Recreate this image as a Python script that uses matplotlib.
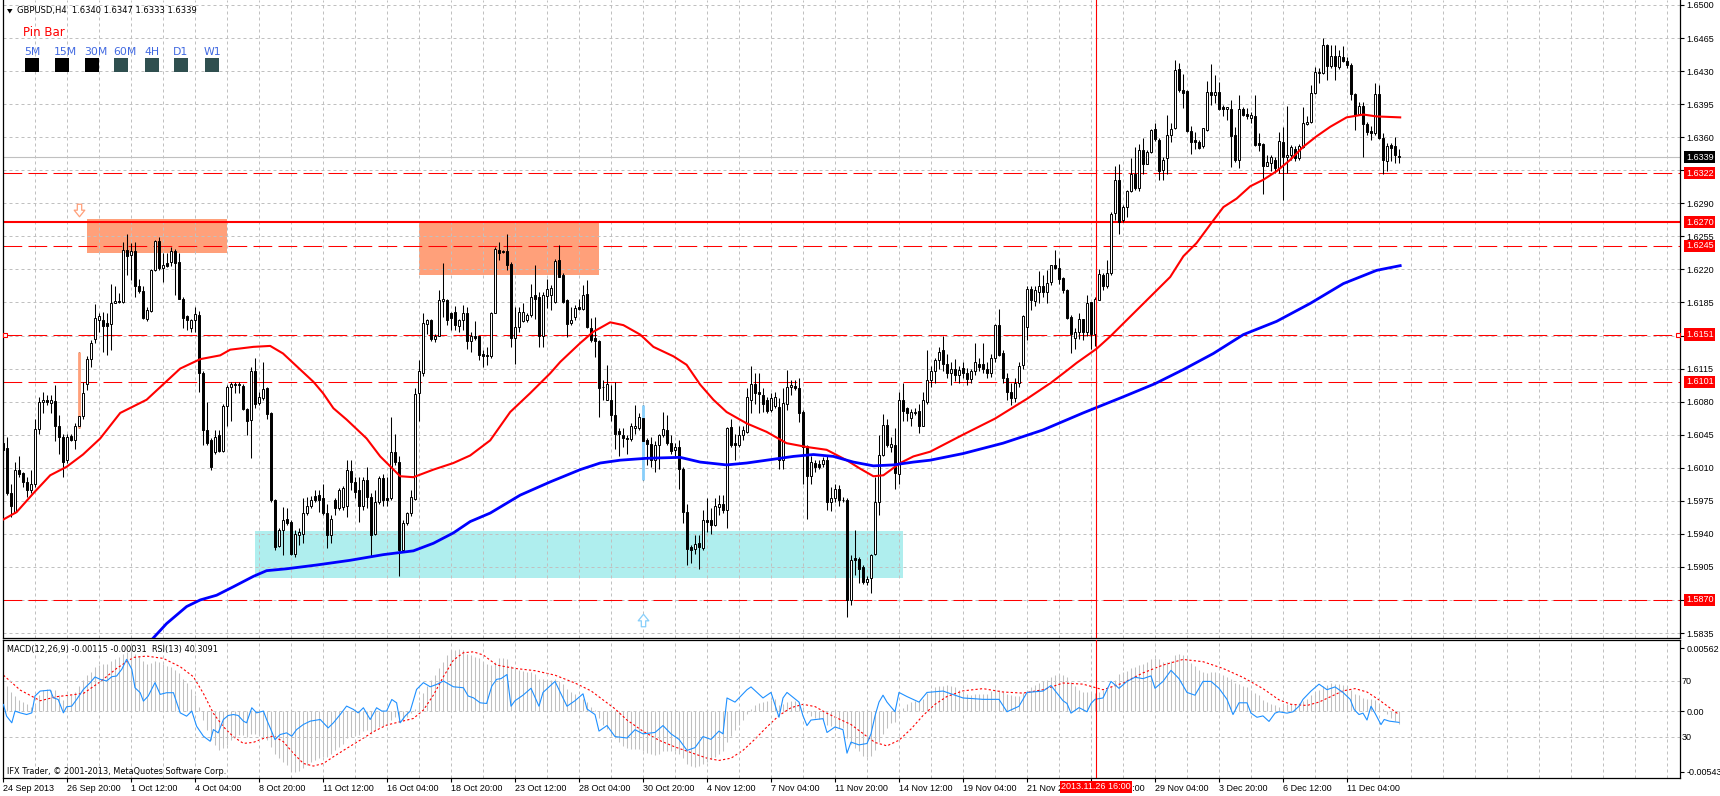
import matplotlib
matplotlib.use("Agg")
import matplotlib.pyplot as plt
from matplotlib.patches import Rectangle, Polygon
from matplotlib.path import Path
import numpy as np

# GBPUSD H4 candles, prices in pips above 1.5800
open_pips = [
    236, 231, 183, 163, 208, 204, 195, 186, 193, 251, 280, 282, 279, 281, 254, 243, 218, 244, 239, 254,
    265, 299, 325, 346, 366, 366, 363, 362, 384, 387, 386, 441, 435, 440, 402, 397, 368, 376, 419, 450,
    421, 427, 428, 440, 428, 389, 371, 358, 366, 372, 310, 250, 239, 227, 245, 228, 275, 296, 298, 298,
    297, 272, 261, 312, 279, 284, 294, 268, 176, 127, 144, 156, 153, 119, 139, 140, 162, 169, 180, 181,
    178, 162, 139, 176, 167, 168, 169, 207, 195, 186, 169, 197, 179, 140, 174, 199, 178, 178, 227, 216,
    123, 151, 162, 177, 289, 310, 362, 366, 346, 349, 387, 388, 374, 375, 360, 366, 374, 344, 350, 349,
    330, 329, 328, 374, 441, 440, 440, 426, 347, 359, 365, 366, 372, 393, 391, 349, 392, 393, 386, 430,
    414, 388, 363, 370, 380, 378, 394, 358, 347, 344, 296, 282, 282, 266, 249, 245, 242, 240, 252, 252,
    263, 239, 235, 218, 234, 245, 250, 236, 229, 232, 209, 163, 126, 124, 130, 125, 155, 155, 149, 168,
    172, 165, 253, 236, 234, 245, 248, 282, 299, 290, 287, 282, 271, 275, 274, 218, 278, 296, 297, 294,
    269, 233, 201, 215, 214, 214, 218, 174, 178, 187, 176, 176, 70, 114, 113, 105, 89, 93, 119, 174,
    224, 255, 232, 234, 203, 282, 273, 263, 268, 270, 254, 280, 303, 312, 324, 335, 320, 310, 315, 308,
    316, 310, 304, 312, 320, 320, 315, 310, 326, 361, 331, 305, 290, 284, 300, 319, 359, 399, 387, 396,
    402, 396, 407, 425, 421, 411, 398, 370, 347, 354, 367, 354, 385, 352, 388, 414, 402, 416, 480, 515,
    472, 486, 503, 521, 506, 546, 532, 544, 569, 557, 525, 538, 562, 570, 632, 610, 609, 567, 557, 555,
    551, 568, 608, 605, 608, 592, 590, 590, 562, 536, 590, 585, 580, 582, 554, 553, 530, 533, 536, 527,
    555, 539, 541, 548, 538, 550, 574, 576, 607, 628, 628, 658, 635, 646, 634, 645, 641, 636, 606, 585,
    593, 574, 567, 564, 606, 559, 535, 552, 551, 540,
]
high_pips = [
    241, 243, 193, 216, 222, 206, 200, 208, 262, 285, 290, 287, 287, 298, 266, 246, 246, 246, 257, 333,
    301, 328, 345, 383, 374, 375, 374, 405, 402, 395, 449, 458, 448, 449, 410, 402, 380, 420, 451, 454,
    437, 437, 444, 442, 437, 391, 372, 368, 380, 376, 312, 280, 241, 250, 250, 278, 298, 301, 301, 301,
    299, 273, 317, 326, 290, 322, 296, 269, 177, 146, 168, 167, 155, 144, 146, 178, 179, 180, 186, 186,
    193, 172, 160, 178, 189, 191, 218, 218, 200, 200, 200, 211, 183, 186, 201, 203, 200, 264, 246, 222,
    155, 163, 186, 294, 324, 374, 368, 368, 352, 398, 427, 389, 375, 381, 368, 382, 380, 354, 365, 350,
    335, 338, 375, 444, 449, 441, 458, 428, 380, 380, 384, 374, 405, 425, 396, 396, 410, 404, 431, 446,
    416, 389, 380, 382, 389, 404, 409, 369, 370, 345, 303, 319, 298, 301, 252, 252, 245, 257, 276, 268,
    276, 241, 243, 238, 246, 269, 266, 245, 236, 239, 211, 172, 128, 139, 139, 165, 178, 167, 178, 181,
    181, 253, 262, 246, 254, 254, 294, 318, 310, 310, 294, 285, 289, 290, 284, 294, 314, 303, 303, 305,
    271, 234, 222, 218, 218, 221, 222, 190, 193, 192, 179, 178, 118, 144, 116, 107, 95, 119, 200, 245,
    267, 262, 243, 252, 290, 300, 274, 272, 273, 278, 290, 335, 318, 326, 338, 349, 330, 322, 325, 318,
    322, 316, 315, 342, 326, 342, 322, 330, 362, 378, 335, 310, 300, 305, 322, 372, 402, 402, 402, 418,
    414, 419, 425, 441, 432, 412, 399, 372, 358, 374, 368, 393, 386, 391, 420, 416, 430, 481, 529, 532,
    488, 504, 538, 550, 553, 559, 546, 569, 575, 559, 539, 584, 575, 642, 639, 627, 610, 572, 566, 557,
    570, 619, 638, 626, 618, 594, 592, 599, 571, 605, 592, 591, 587, 605, 564, 554, 541, 541, 539, 566,
    571, 593, 552, 551, 553, 592, 582, 615, 634, 633, 665, 659, 658, 658, 652, 657, 645, 639, 607, 597,
    597, 576, 572, 617, 615, 564, 554, 554, 560, 547,
]
low_pips = [
    225, 181, 158, 162, 200, 190, 179, 183, 190, 246, 268, 276, 268, 238, 225, 200, 215, 238, 230, 252,
    262, 292, 317, 342, 354, 333, 329, 335, 384, 384, 384, 414, 409, 391, 395, 368, 365, 375, 418, 419,
    407, 423, 424, 393, 389, 358, 356, 354, 354, 290, 234, 234, 208, 225, 227, 227, 254, 260, 289, 289,
    271, 245, 220, 273, 276, 282, 262, 174, 123, 126, 118, 149, 118, 115, 128, 130, 160, 167, 174, 163,
    160, 125, 130, 160, 165, 165, 158, 186, 178, 153, 165, 167, 116, 139, 172, 169, 169, 176, 213, 95,
    121, 149, 159, 176, 260, 307, 352, 344, 343, 349, 370, 361, 356, 356, 354, 356, 336, 333, 345, 324,
    317, 319, 326, 374, 430, 437, 419, 338, 320, 354, 364, 364, 370, 368, 338, 338, 379, 377, 384, 412,
    384, 348, 361, 366, 377, 377, 358, 343, 327, 264, 282, 282, 260, 230, 222, 232, 225, 238, 246, 250,
    197, 213, 211, 205, 209, 243, 234, 225, 220, 187, 151, 107, 109, 119, 103, 123, 142, 140, 148, 160,
    162, 146, 232, 218, 232, 239, 247, 268, 278, 268, 269, 268, 269, 273, 209, 209, 271, 287, 292, 258,
    193, 156, 193, 206, 209, 211, 165, 164, 174, 169, 174, 52, 65, 96, 88, 87, 86, 77, 118, 160,
    222, 232, 227, 188, 193, 260, 260, 254, 266, 247, 254, 278, 295, 300, 315, 312, 305, 298, 302, 300,
    305, 298, 300, 308, 312, 310, 305, 306, 322, 328, 300, 282, 276, 280, 296, 315, 345, 377, 381, 384,
    391, 384, 404, 420, 405, 395, 368, 332, 336, 346, 345, 350, 336, 339, 388, 398, 400, 414, 472, 458,
    470, 476, 502, 504, 503, 521, 532, 543, 556, 515, 515, 521, 555, 569, 608, 591, 566, 542, 547, 547,
    549, 567, 594, 596, 589, 582, 578, 528, 534, 527, 582, 579, 575, 551, 545, 500, 529, 524, 522, 522,
    493, 522, 536, 535, 536, 549, 573, 575, 606, 617, 627, 621, 633, 621, 632, 640, 633, 599, 568, 584,
    539, 562, 557, 562, 558, 521, 524, 535, 533, 533,
]
close_pips = [
    229, 183, 169, 208, 203, 195, 186, 193, 251, 280, 282, 280, 282, 254, 243, 216, 243, 239, 254, 265,
    289, 325, 342, 369, 371, 360, 360, 384, 387, 385, 441, 434, 440, 402, 397, 369, 377, 419, 450, 421,
    425, 424, 440, 427, 389, 369, 366, 366, 373, 310, 250, 236, 211, 243, 228, 275, 296, 299, 299, 299,
    272, 260, 312, 278, 285, 293, 267, 176, 126, 144, 155, 151, 119, 140, 142, 162, 170, 176, 176, 176,
    162, 139, 156, 167, 186, 189, 208, 195, 184, 169, 197, 179, 139, 174, 199, 176, 176, 227, 216, 123,
    151, 162, 179, 288, 312, 363, 366, 346, 349, 388, 389, 366, 369, 361, 366, 374, 344, 350, 347, 329,
    328, 328, 374, 442, 437, 438, 425, 347, 359, 375, 375, 372, 391, 389, 349, 393, 399, 400, 429, 412,
    386, 362, 366, 379, 378, 393, 359, 345, 344, 294, 295, 299, 266, 246, 246, 242, 240, 254, 254, 264,
    238, 235, 218, 234, 245, 251, 236, 228, 232, 209, 163, 124, 123, 129, 126, 155, 153, 149, 169, 172,
    165, 252, 234, 234, 245, 250, 285, 299, 289, 288, 278, 270, 284, 285, 218, 279, 296, 298, 294, 268,
    232, 201, 216, 211, 211, 218, 174, 178, 187, 176, 176, 70, 112, 112, 103, 89, 92, 118, 174, 224,
    255, 234, 235, 204, 282, 270, 268, 269, 269, 254, 282, 303, 312, 324, 333, 320, 310, 315, 308, 314,
    310, 304, 312, 322, 317, 315, 310, 326, 361, 329, 305, 290, 284, 300, 318, 371, 399, 388, 398, 402,
    396, 406, 425, 421, 410, 398, 369, 352, 354, 367, 354, 384, 352, 389, 415, 402, 416, 479, 515, 470,
    486, 503, 521, 506, 546, 532, 544, 568, 558, 524, 536, 562, 569, 631, 610, 607, 567, 555, 555, 549,
    570, 608, 605, 608, 590, 590, 592, 561, 536, 590, 584, 582, 584, 552, 552, 530, 534, 539, 527, 556,
    539, 541, 550, 538, 551, 575, 576, 607, 629, 629, 658, 635, 646, 635, 646, 641, 636, 606, 584, 593,
    574, 565, 564, 606, 559, 536, 551, 549, 541, 539,
]

# moving averages: (bar, pips above 1.5800)
red_ma = [(0, 155), (3.4, 163), (7.6, 183), (11.8, 202), (15.9, 211), (20, 224), (24.3, 241), (29.3, 268),
          (35.9, 282), (44.3, 315), (49.3, 325), (54.3, 329), (56.8, 335), (62.6, 338), (66.8, 339), (70, 331),
          (74.3, 314), (77.6, 301), (80, 289), (82.6, 273), (85.9, 261), (90.9, 241), (94.3, 222), (99.3, 201),
          (102.6, 200), (107.6, 208), (112.6, 215), (116.8, 223), (121.8, 239), (126.8, 269), (131.8, 289),
          (136.8, 310), (139.3, 322), (144.3, 342), (147.6, 354), (151.8, 364), (155.1, 361), (159.3, 351),
          (162.6, 338), (167.6, 328), (170.9, 319), (174.3, 298), (177.6, 282), (180.9, 269), (185.9, 257),
          (190.9, 248), (195.9, 236), (200.9, 232), (205.9, 229), (210.9, 218), (214.3, 209), (217.6, 201),
          (220.1, 202), (224.3, 215), (227.6, 222), (231.8, 227), (240, 245), (248, 262), (256, 283),
          (262, 300), (266.3, 314), (268.4, 321), (273.4, 336), (276.8, 349), (281.8, 370), (286.8, 391),
          (291.8, 412), (295.1, 434), (298.4, 448), (302.6, 472), (305.1, 486), (308.4, 495), (311.8, 508),
          (315.1, 515), (318.4, 524), (321.8, 536), (325.1, 550), (328.4, 561), (331.8, 571), (335.9, 581),
          (340.1, 584), (343.4, 582), (349.3, 581)]
blue_ma = [(37.2, 28), (40.9, 45), (45.9, 63), (49.3, 70), (53.4, 75), (57.6, 84), (62.6, 95), (65.9, 101),
           (70.9, 103), (78.4, 107), (86.8, 112), (95.1, 118), (102.6, 122), (107.6, 130), (112.6, 141),
           (116.8, 153), (121.8, 162), (129.3, 181), (136.8, 195), (144.3, 208), (149.3, 215), (154.3, 218),
           (160.9, 220), (169.3, 221), (174.3, 216), (180.9, 213), (185.9, 215), (192.6, 219), (197.6, 222),
           (202.6, 224), (207.6, 222), (212.6, 216), (217.6, 212), (222.6, 213), (227.6, 216), (231.8, 218),
           (240, 225), (250, 236), (260, 250), (270, 268), (280, 285), (288, 299), (295.1, 314), (302.6, 331),
           (310.1, 351), (318.4, 365), (326.8, 384), (335.1, 405), (343.4, 419), (349.3, 424)]

# MACD(12,26,9) main line per bar, units of 0.0001
macd_main = [
    26, 22, 17, 13, 10, 8, 6, 4, 6, 14, 19, 20, 19, 19, 14, 10, 14, 14, 17, 22,
    28, 32, 35, 39, 41, 42, 42, 45, 46, 48, 51, 53, 54, 51, 49, 45, 42, 43, 45, 44,
    42, 40, 39, 37, 34, 29, 25, 20, 14, 4, -8, -17, -26, -30, -35, -33, -30, -26, -23, -21,
    -21, -23, -20, -20, -21, -23, -26, -32, -38, -42, -45, -48, -53, -54, -53, -51, -48, -45, -44, -42,
    -41, -41, -38, -35, -32, -29, -24, -23, -21, -21, -18, -17, -20, -17, -14, -13, -12, -8, -5, -10,
    -8, -5, -2, 2, 8, 16, 22, 28, 32, 38, 44, 50, 54, 54, 55, 54, 51, 50, 48, 47,
    44, 42, 41, 44, 47, 47, 46, 40, 38, 37, 36, 35, 35, 33, 29, 29, 28, 28, 29, 27,
    24, 20, 17, 15, 12, 11, 8, 4, 1, -6, -12, -16, -20, -24, -28, -31, -33, -34, -34, -34,
    -36, -37, -38, -39, -38, -36, -36, -36, -36, -38, -42, -47, -49, -50, -49, -47, -45, -43, -41, -38,
    -36, -28, -22, -17, -12, -8, -3, 2, 5, 7, 8, 9, 10, 11, 5, 6, 8, 9, 9, 8,
    4, -2, -4, -6, -7, -8, -12, -13, -14, -15, -15, -24, -29, -33, -36, -40, -41, -40, -35, -28,
    -20, -15, -11, -10, -3, 3, 6, 8, 9, 9, 11, 16, 19, 21, 22, 22, 23, 22, 21, 19,
    17, 15, 14, 15, 15, 15, 15, 18, 20, 19, 17, 15, 14, 13, 13, 16, 19, 21, 23, 25,
    27, 28, 30, 32, 33, 32, 30, 26, 22, 19, 17, 17, 16, 16, 17, 19, 20, 22, 28, 33,
    35, 36, 38, 39, 41, 42, 44, 46, 47, 46, 44, 44, 45, 50, 51, 50, 47, 43, 40, 37,
    35, 34, 35, 35, 34, 32, 30, 29, 25, 24, 22, 21, 19, 16, 14, 10, 8, 6, 5, 4,
    5, 6, 6, 6, 7, 9, 11, 14, 17, 19, 22, 23, 25, 24, 24, 23, 22, 19, 15, 14,
    12, 11, 11, 10, 6, 2, -3, -6, -9, -11.5,
]
# signal line points (bar, units of 0.0001)
macd_signal = [(0.1, 32), (4.3, 18.7), (9.3, 9.2), (13.4, 12.8), (20.1, 15.7), (24.3, 26.1), (28.4, 38),
               (32.6, 47.8), (35.9, 49), (40.1, 46.9), (44.3, 39.5), (47.6, 30.6), (50.1, 15.7), (52.6, -2.1),
               (55.1, -14), (57.6, -22.9), (60.1, -28.8), (62.6, -27.9), (65.1, -24.4), (67.6, -22.3),
               (70.1, -27.3), (72.6, -37.7), (75.1, -46.7), (77.6, -49), (80.1, -46.7), (82.6, -40.7),
               (85.9, -33.3), (89.3, -25.9), (92.6, -18.4), (95.9, -12.5), (99.3, -9.5), (102.6, -6.6),
               (105.1, 0.9), (107.6, 14.2), (110.1, 30.6), (112.6, 45.4), (115.1, 52), (117.6, 52.8),
               (120.1, 49.9), (123.4, 41), (128, 38), (133, 36), (138, 32), (143, 25), (147, 18), (150, 10),
               (153, 2), (156, -8), (160, -18), (164, -26), (168, -32), (172, -37), (176, -42), (179, -44),
               (182, -42), (185, -35), (188, -25), (191, -14), (194, -4), (197, 3), (200, 6), (203, 4),
               (206, -2), (209, -7), (212, -12), (215, -20), (218, -28), (221, -31), (224, -26), (227, -16),
               (230, -4), (233, 6), (236, 13), (240, 18), (245, 20), (250, 17), (255, 16), (260, 19),
               (265, 25), (270, 24), (275, 19), (280, 25), (285, 34), (290, 41), (295, 46), (300, 44),
               (305, 38), (310, 30), (315, 20), (319, 10), (322, 6), (326, 5), (329, 8), (332, 13),
               (335, 18), (338, 20), (341, 17), (344, 10), (346.3, 3.9), (349, -3.1)]
# RSI(13) points (bar, value)
rsi_pts = [(0.1, 53.3), (0.9, 44.8), (2.2, 40), (3, 48.5), (4.3, 47.2), (5.9, 46), (7.2, 47.2), (8, 59.4),
           (9.3, 63), (11.8, 63.7), (12.6, 58.1), (13.8, 56.9), (15.1, 47.2), (15.9, 51.6), (17.2, 52.1),
           (18.4, 56.9), (20.1, 64.2), (21.8, 69.1), (23, 73.2), (24.3, 71.5), (25.9, 70.3), (27.2, 73.4),
           (28.4, 73.9), (29.7, 78.8), (30.9, 86), (32.2, 78.8), (33, 65.4), (34.3, 61.8), (35.1, 55.7),
           (36.3, 59.4), (38, 69.1), (39.3, 60.6), (40.9, 61.8), (42.6, 61.8), (44.3, 47.2), (45.9, 44.8),
           (47.2, 48.5), (48.4, 37.5), (50.1, 30.3), (51.8, 26.6), (52.6, 35.1), (53.8, 32.7), (55.1, 42.4),
           (56.3, 45.3), (57.6, 46), (58.8, 45.3), (60.1, 41.2), (60.9, 40), (62.2, 50.9), (63.4, 47.2),
           (65.1, 48.5), (65.9, 42.4), (66.8, 36.3), (68, 27.8), (69.3, 31.5), (70.9, 32.7), (72.2, 30.3),
           (73.4, 35.1), (75.1, 38.8), (76.8, 41.2), (79.3, 42.4), (81.3, 36.3), (82.6, 40), (84.3, 46),
           (85.9, 52.1), (87.6, 49.7), (88.8, 47.2), (90.1, 50.9), (91.8, 42.4), (93.4, 50.9), (94.7, 48.5),
           (95.9, 48.5), (97.2, 56.9), (98.4, 54.5), (99.3, 40), (100.5, 44.8), (101.8, 48.5), (103.4, 64.2),
           (105.1, 69.1), (106.8, 66.1), (108.4, 67.8), (110.1, 70.3), (112.6, 66.1), (115.1, 65.4),
           (116.3, 59.4), (117.6, 58.1), (119.3, 54.5), (120.9, 54), (122.2, 66.6), (123.4, 71.5),
           (124.5, 72), (126, 75), (127, 52), (128, 56), (130, 60), (132, 65), (134, 52), (135, 62), (138, 70),
           (139, 64), (141, 52), (143, 56), (145, 61), (146, 50), (148, 46), (149, 34), (151, 38), (153, 30),
           (156, 29), (158, 35), (160, 32), (163, 33), (165, 38), (167, 32), (169, 28), (171, 20), (173, 22),
           (175, 30), (177, 28), (179, 34), (180, 32), (181, 58), (183, 55), (186, 64), (187, 66), (190, 58),
           (192, 62), (194, 44), (195, 58), (196, 62), (199, 55), (200, 45), (201, 38), (202, 42), (205, 43),
           (206, 33), (208, 37), (210, 35), (211, 18), (212, 26), (214, 24), (216, 25), (217, 32), (218, 45),
           (219, 55), (220, 60), (221, 55), (223, 48), (224, 62), (226, 59), (229, 55), (231, 62), (235, 63),
           (240, 58), (245, 57), (249, 57), (251, 48), (254, 52), (256, 62), (260, 63), (262, 67), (265, 56),
           (266, 54), (267, 47), (269, 51), (271, 48), (272, 54), (273, 57), (275, 58), (277, 70), (279, 65),
           (281, 70), (283, 73), (285, 72), (287, 74), (288, 65), (290, 70), (292, 78), (294, 72), (296, 62),
           (298, 60), (300, 70), (302, 70), (304, 65), (306, 57), (307.5, 46), (309, 54.5), (311, 54.5),
           (312, 47), (313.5, 44), (315, 45), (316.5, 41), (318, 47), (319, 48), (321, 47), (322.5, 48),
           (324, 52), (325, 57), (327, 63), (329, 68), (331, 64), (333, 66), (335, 62), (336.8, 57),
           (337.8, 49.6), (339, 46), (340, 47), (341, 42), (342, 52), (343, 47), (344.5, 38.7), (345.3, 42.4),
           (346.6, 41.2), (349, 40.3)]

# chart objects
zones = [  # (first bar, last bar, low price, high price, colour)
    (21.1, 56.1, 1.62377, 1.62731, "#FFA07A"),
    (104.0, 149.0, 1.62141, 1.62716, "#FFA07A"),
    (63.0, 224.9, 1.58935, 1.59430, "#AFEEEE"),
]
levels = [1.6322, 1.6270, 1.6245, 1.6151, 1.6101, 1.5870]
last_price = 1.6339
cursor_bar = 273.25

date_bars = list(range(0, 337, 16))
date_labels = ["24 Sep 2013", "26 Sep 20:00", "1 Oct 12:00", "4 Oct 04:00", "8 Oct 20:00",
               "11 Oct 12:00", "16 Oct 04:00", "18 Oct 20:00", "23 Oct 12:00", "28 Oct 04:00",
               "30 Oct 20:00", "4 Nov 12:00", "7 Nov 04:00", "11 Nov 20:00", "14 Nov 12:00",
               "19 Nov 04:00", "21 Nov 20:00", "26 Nov 12:00", "29 Nov 04:00", "3 Dec 20:00",
               "6 Dec 12:00", "11 Dec 04:00"]
tf_labels = ["5M", "15M", "30M", "60M", "4H", "D1", "W1"]
tf_colors = ["black", "black", "black", "#2F4F4F", "#2F4F4F", "#2F4F4F", "#2F4F4F"]

base = 1.58
o = base + np.array(open_pips) / 1e4
h = base + np.array(high_pips) / 1e4
l = base + np.array(low_pips) / 1e4
c = base + np.array(close_pips) / 1e4
x = np.arange(len(c))

W, H = 1720, 796
def fx(px):
    return px / W
def fy(py):
    return 1 - py / H

plt.rcParams['font.family'] = ['DejaVu Sans']
fig = plt.figure(figsize=(17.2, 7.96), dpi=100)
ax = fig.add_axes([fx(3), fy(638), fx(1680) - fx(3), fy(0) - fy(638)])
sub = fig.add_axes([fx(3), fy(778), fx(1680) - fx(3), fy(640) - fy(778)])

grid_kw = dict(color="#C0C0C0", linestyle=(0, (3, 3)), linewidth=0.72)
for a in (ax, sub):
    a.set_xlim(0, 419.25)
    for s in a.spines.values():
        s.set_linewidth(0.9)
    for g in range(0, 420, 8):
        a.axvline(g, zorder=0.5, **grid_kw)
ax.spines['top'].set_visible(False)
ax.set_ylim(1.582971, 1.650529)

price_ticks = np.arange(1.5835, 1.65001, 0.0035)
for p in price_ticks:
    ax.axhline(p, zorder=0.5, **grid_kw)
ax.set_xticks([])
ax.yaxis.tick_right()
ax.set_yticks(price_ticks)
ax.set_yticklabels(["%.4f" % p for p in price_ticks], fontsize=6.5, family="Liberation Sans")
ax.tick_params(axis='y', direction='out', length=3, width=0.8, pad=1.5)

# zones
for x0, x1, p0, p1, col in zones:
    ax.add_patch(Rectangle((x0, p0), x1 - x0, p1 - p0, fc=col, ec="none", zorder=0.3))

# horizontal levels
for p in levels:
    if p == 1.6270:
        ax.axhline(p, color="red", lw=1.5, zorder=1.5)
    else:
        ax.axhline(p, color="red", lw=0.75, linestyle=(0, (18, 6)), zorder=1.5)
ax.plot([0.6, 418.75], [1.6151, 1.6151], ls="none", marker="s", ms=3.2, mfc="white", mec="red", mew=0.8, zorder=5)
ax.axhline(last_price, color="#C0C0C0", lw=0.8, zorder=1.4)

# candles
ax.vlines(x, l, h, color="black", lw=0.75, zorder=3)
ax.vlines([19], [1.6052], [1.6133], color="#FFA07A", lw=2.0, zorder=3.2)
ax.vlines([160], [1.5997], [1.6076], color="#87CEFA", lw=2.0, zorder=3.2)
body_lo = np.minimum(o, c)
body_h = np.abs(c - o)
colors = ["white" if cc >= oo else "black" for oo, cc in zip(o, c)]
ax.bar(x, body_h, bottom=body_lo, width=0.72, color=colors, edgecolor="black", linewidth=0.7, zorder=4)

# moving averages
rx, ry = zip(*red_ma)
ax.plot(rx, base + np.array(ry) / 1e4, color="red", lw=1.5, zorder=5)
bx, by = zip(*blue_ma)
ax.plot(bx, base + np.array(by) / 1e4, color="blue", lw=2.0, zorder=5)

# pin bar arrows (hollow block arrows)
down_arrow = Path([(-0.35, 1), (0.35, 1), (0.35, 0.05), (0.85, 0.05), (0, -1), (-0.85, 0.05),
                   (-0.35, 0.05), (-0.35, 1)], closed=True)
up_arrow = Path([(-0.35, -1), (0.35, -1), (0.35, -0.05), (0.85, -0.05), (0, 1), (-0.85, -0.05),
                 (-0.35, -0.05), (-0.35, -1)], closed=True)
ax.plot([19], [1.6283], marker=down_arrow, ms=9, mfc="white", mec="#FFA07A", mew=0.9, ls="none", zorder=6)
ax.plot([160], [1.5849], marker=up_arrow, ms=9, mfc="white", mec="#87CEFA", mew=0.9, ls="none", zorder=6)

# cursor
ax.axvline(cursor_bar, color="red", lw=0.8, zorder=6)
sub.axvline(cursor_bar, color="red", lw=0.8, zorder=6)

# right side price boxes
for p in levels:
    ax.text(1.0036, p, "%.4f" % p, transform=ax.get_yaxis_transform(), color="white", fontsize=6.5,
            family="Liberation Sans", ha="left", va="center", zorder=10, clip_on=False,
            bbox=dict(boxstyle="square,pad=0.18", fc="red", ec="none"))
ax.text(1.0036, last_price, "%.4f" % last_price, transform=ax.get_yaxis_transform(), color="white",
        fontsize=6.5, family="Liberation Sans", ha="left", va="center", zorder=10, clip_on=False,
        bbox=dict(boxstyle="square,pad=0.18", fc="black", ec="none"))

# indicator window: RSI on 0..100, MACD on twin axis
sub.set_ylim(0, 100)
sub.set_yticks([])
for lev in (70, 30):
    sub.axhline(lev, zorder=0.5, **grid_kw)
macd_ax = sub.twinx()
macd_ax.set_ylim(-0.005965, 0.006333)
macd_ax.axhline(0, zorder=0.5, **grid_kw)
macd_ax.vlines(x, 0, np.array(macd_main) * 1e-4, color="#C0C0C0", lw=0.75, zorder=1)
sx, sy = zip(*macd_signal)
macd_ax.plot(sx, np.array(sy) * 1e-4, color="red", lw=0.8, linestyle=(0, (2, 2)), zorder=2)
qx, qy = zip(*rsi_pts)
sub.set_zorder(macd_ax.get_zorder() + 1)
sub.patch.set_visible(False)
sub.plot(qx, qy, color="#1E90FF", lw=0.8, zorder=3)
macd_ax.set_yticks([0.00562, 0.0, -0.00543])
macd_ax.set_yticklabels(["0.00562", "0.00", "-0.00543"], fontsize=6.5, family="Liberation Sans")
macd_ax.tick_params(axis='y', direction='out', length=3, width=0.8, pad=1.5)
for s in macd_ax.spines.values():
    s.set_visible(False)
fig.text(fx(1682), fy(682), "70", fontsize=6.5, family="Liberation Sans", va="center")
fig.text(fx(1682), fy(737), "30", fontsize=6.5, family="Liberation Sans", va="center")

sub.set_xticks(date_bars)
sub.set_xticklabels(date_labels, ha="left", fontsize=6.5, family="Liberation Sans")
sub.tick_params(axis='x', direction='out', length=3, width=0.8, pad=1.5)
sub.text(cursor_bar, -0.065, "2013.11.26 16:00", transform=sub.get_xaxis_transform(), color="white",
         fontsize=6.5, family="Liberation Sans", ha="center", va="center", zorder=10, clip_on=False,
         bbox=dict(boxstyle="square,pad=0.15", fc="red", ec="none"))

sub.text(0.0025, 0.93, "MACD(12,26,9) -0.00115 -0.00031  RSI(13) 40.3091", transform=sub.transAxes,
         fontsize=5.9, va="center", ha="left")
sub.text(0.0025, 0.045, "IFX Trader, \u00a9 2001-2013, MetaQuotes Software Corp.", transform=sub.transAxes,
         fontsize=5.9, va="center", ha="left")

# header
fig.patches.append(Polygon([[fx(7), fy(9)], [fx(12.5), fy(9)], [fx(9.75), fy(13.5)]], closed=True,
                           fc="black", ec="none", transform=fig.transFigure, figure=fig))
fig.text(fx(17), fy(10.5), "GBPUSD,H4  1.6340 1.6347 1.6333 1.6339", fontsize=6.0, va="center")
fig.text(fx(23), fy(32), "Pin Bar", color="red", fontsize=8.5, va="center")
tf_x = [24, 54, 84, 113, 144, 173, 204]
for lbl, tx, col in zip(tf_labels, tf_x, tf_colors):
    fig.text(fx(tx), fy(52), lbl, color="#4169E1", fontsize=7.8, va="center")
    fig.patches.append(Rectangle((fx(tx + 1), fy(72)), 14 / W, 14 / H, fc=col, ec="none",
                                 transform=fig.transFigure, figure=fig))

fig.savefig("out.png", dpi=100)
